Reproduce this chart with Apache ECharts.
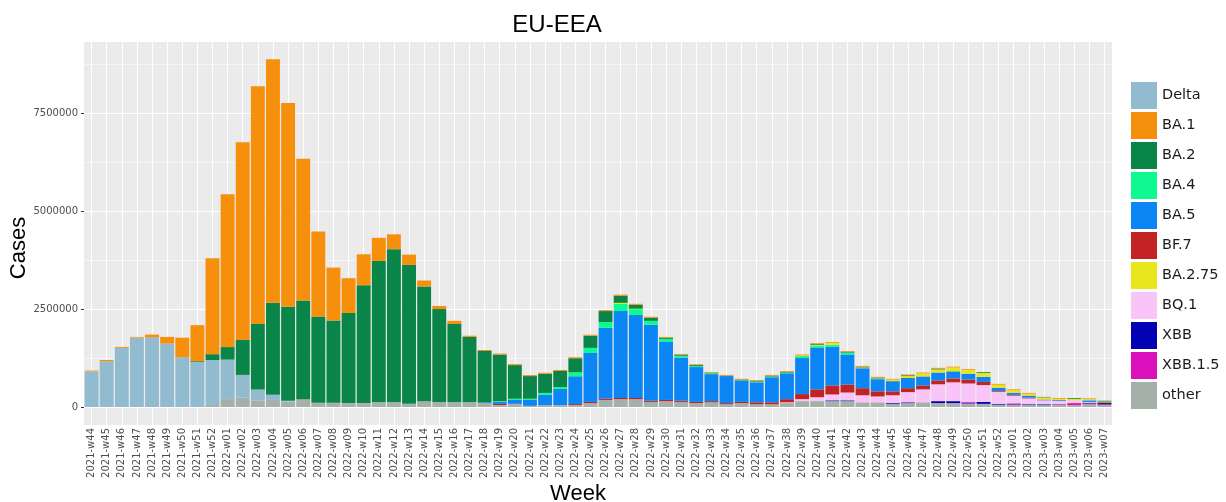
<!DOCTYPE html>
<html>
<head>
<meta charset="utf-8">
<title>EU-EEA variants</title>
<script src="https://cdn.jsdelivr.net/npm/echarts@6/dist/echarts.min.js"></script>
<style>
  html, body { margin: 0; padding: 0; background: #fff; }
  #chart { width: 1226px; height: 502px; }
</style>
</head>
<body>
<div id="chart"></div>
<script>
const weeks = [
  "2021-w44", "2021-w45", "2021-w46", "2021-w47", "2021-w48", "2021-w49", "2021-w50", "2021-w51", "2021-w52",
  "2022-w01", "2022-w02", "2022-w03", "2022-w04", "2022-w05", "2022-w06", "2022-w07", "2022-w08", "2022-w09",
  "2022-w10", "2022-w11", "2022-w12", "2022-w13", "2022-w14", "2022-w15", "2022-w16", "2022-w17", "2022-w18",
  "2022-w19", "2022-w20", "2022-w21", "2022-w22", "2022-w23", "2022-w24", "2022-w25", "2022-w26", "2022-w27",
  "2022-w28", "2022-w29", "2022-w30", "2022-w31", "2022-w32", "2022-w33", "2022-w34", "2022-w35", "2022-w36",
  "2022-w37", "2022-w38", "2022-w39", "2022-w40", "2022-w41", "2022-w42", "2022-w43", "2022-w44", "2022-w45",
  "2022-w46", "2022-w47", "2022-w48", "2022-w49", "2022-w50", "2022-w51", "2022-w52",
  "2023-w01", "2023-w02", "2023-w03", "2023-w04", "2023-w05", "2023-w06", "2023-w07"
];

// weekly cases per variant (one value per week above)
const other = [
  0, 0, 0, 0, 0, 0, 0, 0, 50000,
  200000, 240000, 160000, 180000, 140000, 200000, 110000, 110000, 100000,
  100000, 130000, 130000, 80000, 150000, 130000, 130000, 130000, 100000,
  50000, 80000, 30000, 50000, 50000, 50000, 100000, 180000, 200000,
  200000, 130000, 150000, 130000, 100000, 120000, 70000, 100000, 70000,
  70000, 100000, 150000, 150000, 150000, 150000, 120000, 120000, 80000,
  100000, 120000, 100000, 100000, 80000, 80000, 60000,
  50000, 50000, 50000, 60000, 50000, 70000, 50000
];
const delta = [
  910000, 1170000, 1510000, 1770000, 1780000, 1620000, 1270000, 1150000, 1150000,
  1010000, 580000, 290000, 130000, 20000, 0, 0, 0, 0,
  0, 0, 0, 0, 0, 0, 0, 0, 0,
  0, 0, 0, 0, 0, 0, 0, 0, 0,
  0, 0, 0, 0, 0, 0, 0, 0, 0,
  0, 0, 0, 0, 0, 0, 0, 0, 0,
  0, 0, 0, 0, 0, 0, 0,
  0, 0, 0, 0, 0, 0, 0
];
const ba1 = [
  20000, 30000, 25000, 20000, 70000, 170000, 500000, 920000, 2450000,
  3900000, 5050000, 6070000, 6220000, 5200000, 3620000, 2170000, 1350000, 890000,
  790000, 590000, 380000, 260000, 150000, 80000, 80000, 30000, 25000,
  25000, 25000, 25000, 25000, 25000, 25000, 25000, 25000, 30000,
  25000, 25000, 20000, 20000, 20000, 20000, 20000, 20000, 20000,
  20000, 20000, 20000, 20000, 20000, 20000, 20000, 20000, 20000,
  20000, 20000, 20000, 20000, 20000, 0, 20000,
  20000, 20000, 10000, 20000, 0, 20000, 0
];
const ba2 = [
  0, 0, 0, 0, 0, 0, 0, 20000, 150000,
  320000, 890000, 1670000, 2350000, 2400000, 2520000, 2200000, 2100000, 2300000,
  3010000, 3600000, 3900000, 3550000, 2930000, 2370000, 1990000, 1660000, 1310000,
  1190000, 860000, 580000, 490000, 410000, 360000, 310000, 280000, 180000,
  100000, 80000, 30000, 25000, 25000, 10000, 10000, 20000, 20000,
  20000, 20000, 0, 20000, 0, 20000, 20000, 20000, 0,
  20000, 0, 20000, 0, 0, 20000, 0,
  0, 0, 10000, 0, 20000, 0, 20000
];
const ba4 = [
  0, 0, 0, 0, 0, 0, 0, 0, 0,
  0, 0, 0, 0, 0, 0, 0, 0, 0,
  0, 0, 0, 0, 0, 0, 0, 0, 0,
  20000, 30000, 30000, 50000, 50000, 100000, 130000, 150000, 180000,
  150000, 100000, 80000, 50000, 25000, 25000, 0, 10000, 20000,
  20000, 20000, 50000, 50000, 50000, 50000, 0, 10000, 0,
  0, 0, 0, 0, 0, 0, 0,
  0, 0, 0, 0, 0, 0, 0
];
const ba5 = [
  0, 0, 0, 0, 0, 0, 0, 0, 0,
  0, 0, 0, 0, 0, 0, 0, 0, 0,
  0, 0, 0, 0, 0, 0, 0, 0, 20000,
  50000, 100000, 150000, 260000, 410000, 710000, 1250000, 1810000, 2220000,
  2120000, 1940000, 1480000, 1100000, 890000, 690000, 690000, 540000, 510000,
  640000, 660000, 920000, 1070000, 990000, 770000, 510000, 310000, 260000,
  260000, 230000, 200000, 180000, 150000, 130000, 80000,
  50000, 50000, 20000, 20000, 0, 40000, 0
];
const bf7 = [
  0, 0, 0, 0, 0, 0, 0, 0, 0,
  0, 0, 0, 0, 0, 0, 0, 0, 0,
  0, 0, 0, 0, 0, 0, 0, 0, 0,
  30000, 0, 0, 0, 0, 25000, 30000, 30000, 30000,
  30000, 30000, 30000, 30000, 30000, 30000, 30000, 30000, 50000,
  50000, 80000, 130000, 200000, 230000, 200000, 180000, 130000, 100000,
  100000, 100000, 100000, 100000, 100000, 80000, 20000,
  20000, 20000, 0, 0, 0, 0, 20000
];
const ba275 = [
  0, 0, 0, 0, 0, 0, 0, 0, 0,
  0, 0, 0, 0, 0, 0, 0, 0, 0,
  0, 0, 0, 0, 0, 0, 0, 0, 0,
  0, 0, 0, 0, 0, 0, 0, 0, 30000,
  10000, 0, 0, 0, 0, 0, 0, 0, 0,
  0, 0, 20000, 20000, 50000, 0, 20000, 10000, 40000,
  50000, 80000, 80000, 100000, 100000, 100000, 80000,
  70000, 50000, 50000, 30000, 40000, 30000, 20000
];
const bq1 = [
  0, 0, 0, 0, 0, 0, 0, 0, 0,
  0, 0, 0, 0, 0, 0, 0, 0, 0,
  0, 0, 0, 0, 0, 0, 0, 0, 0,
  0, 0, 0, 0, 0, 0, 0, 0, 0,
  0, 0, 0, 0, 0, 0, 0, 0, 0,
  0, 20000, 50000, 100000, 150000, 200000, 180000, 150000, 200000,
  260000, 330000, 430000, 480000, 480000, 430000, 310000,
  200000, 150000, 100000, 80000, 70000, 20000, 0
];
const xbb = [
  0, 0, 0, 0, 0, 0, 0, 0, 0,
  0, 0, 0, 0, 0, 0, 0, 0, 0,
  0, 0, 0, 0, 0, 0, 0, 0, 0,
  0, 0, 0, 0, 0, 0, 0, 0, 0,
  0, 0, 0, 0, 0, 0, 0, 0, 0,
  0, 0, 0, 0, 20000, 20000, 0, 0, 20000,
  20000, 0, 50000, 50000, 20000, 50000, 20000,
  20000, 20000, 20000, 0, 0, 20000, 30000
];
const xbb15 = [
  0, 0, 0, 0, 0, 0, 0, 0, 0,
  0, 0, 0, 0, 0, 0, 0, 0, 0,
  0, 0, 0, 0, 0, 0, 0, 0, 0,
  0, 0, 0, 0, 0, 0, 0, 0, 0,
  0, 0, 0, 0, 0, 0, 0, 0, 0,
  0, 0, 0, 0, 0, 0, 0, 0, 0,
  0, 0, 0, 0, 20000, 0, 0,
  20000, 0, 0, 20000, 50000, 20000, 20000
];

const majorTicks = [0, 2500000, 5000000, 7500000];
const minorTicks = [1250000, 3750000, 6250000, 8750000];

// legend order (top to bottom) and colours
const legendOrder = ["Delta", "BA.1", "BA.2", "BA.4", "BA.5", "BF.7", "BA.2.75", "BQ.1", "XBB", "XBB.1.5", "other"];
const colors = {
  "Delta": "#93BBD0",
  "BA.1": "#F6900C",
  "BA.2": "#0A8549",
  "BA.4": "#0EF990",
  "BA.5": "#0C85F5",
  "BF.7": "#C32222",
  "BA.2.75": "#E9E51B",
  "BQ.1": "#F9C4F7",
  "XBB": "#0202B4",
  "XBB.1.5": "#DC11BE",
  "other": "#A4B0A8",
};
// stacking order, bottom first
const stackOrder = [
  ["other", other], ["Delta", delta], ["XBB.1.5", xbb15], ["XBB", xbb], ["BQ.1", bq1],
  ["BF.7", bf7], ["BA.5", ba5], ["BA.4", ba4], ["BA.2.75", ba275], ["BA.2", ba2], ["BA.1", ba1],
];

// panel layout: zero line sits 18px above the panel bottom (ggplot expansion)
const panel = { left: 84, top: 42, width: 1028, height: 383 };
const zeroY = 407;
const y7500k = 113.3;
const yMax = (zeroY - panel.top) * 7500000 / (zeroY - y7500k);

const tickFont = "DejaVu Sans";
const titleFont = "Liberation Sans";

const chart = echarts.init(document.getElementById("chart"), null, { renderer: "canvas" });

chart.setOption({
  animation: false,
  backgroundColor: "#ffffff",
  grid: [
    { left: panel.left, top: panel.top, width: panel.width, height: panel.height,
      show: true, backgroundColor: "#EBEBEB", borderWidth: 0 },
    { left: panel.left, top: panel.top, width: panel.width, height: zeroY - panel.top },
  ],
  xAxis: [
    {
      gridIndex: 0,
      type: "category",
      data: weeks,
      axisLine: { show: false },
      axisTick: { alignWithLabel: true, length: 3, lineStyle: { color: "#333333", width: 1 } },
      axisLabel: { rotate: 90, interval: 0, margin: 3, fontSize: 10, color: "#4D4D4D", fontFamily: tickFont },
      splitLine: { show: true, alignWithLabel: true, interval: 0, lineStyle: { color: "#ffffff", width: 1.1 } },
    },
    { gridIndex: 1, type: "category", data: weeks, show: false },
  ],
  yAxis: [
    { gridIndex: 0, type: "value", show: false },
    {
      gridIndex: 1,
      type: "value",
      min: 0,
      max: yMax,
      axisLine: { show: false },
      axisTick: { show: true, length: 3, customValues: majorTicks, lineStyle: { color: "#333333", width: 1 } },
      axisLabel: {
        customValues: majorTicks, margin: 6, fontSize: 10, color: "#4D4D4D", fontFamily: tickFont,
        formatter: (v) => String(v),
      },
      splitLine: { show: true, lineStyle: { color: "#ffffff", width: 1.1 } },
    },
    {
      gridIndex: 1,
      type: "value",
      min: 0,
      max: yMax,
      axisLine: { show: false },
      axisTick: { show: false, customValues: minorTicks },
      axisLabel: { show: false, customValues: minorTicks },
      splitLine: { show: true, lineStyle: { color: "#ffffff", width: 0.5 } },
    },
  ],
  legend: {
    orient: "vertical",
    left: 1131,
    top: 82,
    padding: 0,
    icon: "rect",
    itemWidth: 26,
    itemHeight: 27,
    itemGap: 3,
    data: legendOrder,
    textStyle: { fontSize: 14.5, color: "#1A1A1A", fontFamily: tickFont },
  },
  graphic: [
    { type: "text", x: 557, y: 25,
      style: { text: "EU-EEA", font: `24px "${titleFont}"`, fill: "#000000", align: "center", verticalAlign: "middle" } },
    { type: "text", x: 578, y: 494,
      style: { text: "Week", font: `22px "${titleFont}"`, fill: "#000000", align: "center", verticalAlign: "middle" } },
    { type: "text", x: 19, y: 248, rotation: Math.PI / 2,
      style: { text: "Cases", font: `22px "${titleFont}"`, fill: "#000000", align: "center", verticalAlign: "middle" } },
  ],
  series: stackOrder.map(([name, values]) => ({
    name,
    type: "bar",
    stack: "total",
    xAxisIndex: 1,
    yAxisIndex: 1,
    data: values,
    barCategoryGap: "8%",
    itemStyle: { color: colors[name] },
    emphasis: { disabled: true },
  })),
});
</script>
</body>
</html>
